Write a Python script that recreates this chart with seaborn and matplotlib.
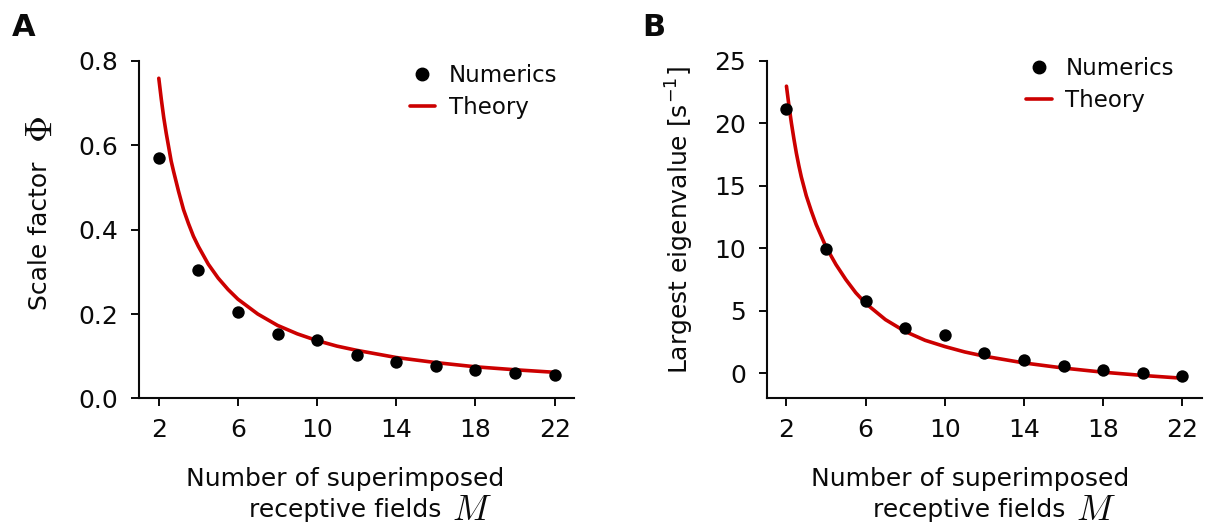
import matplotlib
matplotlib.use("Agg")
import matplotlib.pyplot as plt
import seaborn as sns
from matplotlib.lines import Line2D

# ---------------- data ----------------
M_numerics = [2, 4, 6, 8, 10, 12, 14, 16, 18, 20, 22]
scale_numerics = [0.569, 0.303, 0.204, 0.153, 0.139, 0.102, 0.087, 0.076, 0.067, 0.060, 0.055]
eig_numerics = [21.1, 9.95, 5.82, 3.62, 3.08, 1.65, 1.05, 0.59, 0.27, 0.03, -0.19]

M_theory = [2, 2.125, 2.25, 2.375, 2.5, 2.625, 2.75, 3, 3.25, 3.5, 3.75, 4, 4.5, 5, 5.5,
            6, 7, 8, 9, 10, 11, 12, 14, 16, 18, 20, 22]
scale_theory = [0.758, 0.709, 0.665, 0.628, 0.595, 0.562, 0.537, 0.490, 0.447, 0.414, 0.384,
                0.360, 0.318, 0.285, 0.258, 0.235, 0.200, 0.173, 0.153, 0.137, 0.124,
                0.114, 0.097, 0.085, 0.075, 0.068, 0.062]
eig_theory = [22.95, 21.4, 20.0, 18.75, 17.6, 16.6, 15.7, 14.2, 13.0, 11.9, 11.0,
              10.1, 8.7, 7.5, 6.45, 5.6, 4.3, 3.35, 2.65, 2.15, 1.72,
              1.38, 0.84, 0.43, 0.10, -0.16, -0.38]

x_ticks = [2, 6, 10, 14, 18, 22]
yticks_A = [0.0, 0.2, 0.4, 0.6, 0.8]
yticks_B = [0, 5, 10, 15, 20, 25]

xlabel_line1 = "Number of superimposed"
xlabel_line2 = "receptive fields"
xlabel_symbol = r"$M$"
ylabel_A = "Scale factor"
ylabel_A_symbol = r"$\Phi$"
ylabel_B = r"Largest eigenvalue [s$^{\mathregular{-1}}$]"

RED = "#cc0000"
INK = "#0a0a0a"

# ---------------- style ----------------
sns.set_theme(style="ticks")
plt.rcParams["font.family"] = ["DejaVu Sans"]
plt.rcParams["mathtext.fontset"] = "cm"
plt.rcParams["text.color"] = INK

fig = plt.figure(figsize=(12.15, 5.29), dpi=100)
axA = fig.add_axes([0.1144, 0.2467, 0.3584, 0.6389])
axB = fig.add_axes([0.6310, 0.2467, 0.3585, 0.6389])


def draw(ax, theory, numerics, yticks, ylim, ylabel, ypad, label_y, xlab_x, m_x, leg_anchor):
    sns.lineplot(x=M_theory, y=theory, ax=ax, color=RED, linewidth=2.6, zorder=2)
    sns.scatterplot(x=M_numerics, y=numerics, ax=ax, color="black", s=80,
                    linewidth=0, zorder=3)
    ax.set_xlim(1, 23)
    ax.set_ylim(*ylim)
    ax.set_xticks(x_ticks)
    ax.set_yticks(yticks)
    if isinstance(yticks[0], float):
        ax.set_yticklabels([f"{v:.1f}" for v in yticks])
    sns.despine(ax=ax)
    for sp in ("left", "bottom"):
        ax.spines[sp].set_linewidth(1.5)
        ax.spines[sp].set_color(INK)
    ax.tick_params(direction="out", length=6, width=1.4, labelsize=18,
                   color=INK, labelcolor=INK)
    ax.tick_params(axis="x", pad=8)
    ax.tick_params(axis="y", pad=9)
    ax.set_xlabel(xlabel_line1, fontsize=18, labelpad=18, color=INK)
    ax.xaxis.label.set_x(xlab_x)
    ax.text(xlab_x, -0.330, xlabel_line2, transform=ax.transAxes, fontsize=18,
            ha="center", va="center", color=INK)
    ax.text(m_x, -0.330, xlabel_symbol, transform=ax.transAxes, fontsize=26,
            ha="center", va="center", color=INK)
    ax.set_ylabel(ylabel, fontsize=18, labelpad=ypad, color=INK)
    ax.yaxis.label.set_y(label_y)
    handles = [Line2D([], [], marker="o", linestyle="none", color="black", markersize=9),
               Line2D([], [], color=RED, linewidth=2.6)]
    ax.legend(handles, ["Numerics", "Theory"], loc="upper right", bbox_to_anchor=leg_anchor,
              frameon=False, fontsize=16.5, handlelength=1.1, handletextpad=0.6,
              labelspacing=0.38, borderaxespad=0, borderpad=0, labelcolor=INK)


draw(axA, scale_theory, scale_numerics, yticks_A, (0, 0.8), ylabel_A, 19, 0.481,
     0.473, 0.765, (0.96, 0.99))
draw(axB, eig_theory, eig_numerics, yticks_B, (-2, 25), ylabel_B, 14, 0.529,
     0.466, 0.755, (0.935, 1.01))

# large serif Phi that completes the y label of panel A
axA.text(-0.222, 0.795, ylabel_A_symbol, transform=axA.transAxes, rotation=90,
         fontsize=27, ha="center", va="center", color=INK)

fig.text(0.0099, 0.975, "A", fontsize=22, fontweight="bold", va="top", ha="left", color=INK)
fig.text(0.529, 0.975, "B", fontsize=22, fontweight="bold", va="top", ha="left", color=INK)

fig.savefig("out.png", dpi=100)
